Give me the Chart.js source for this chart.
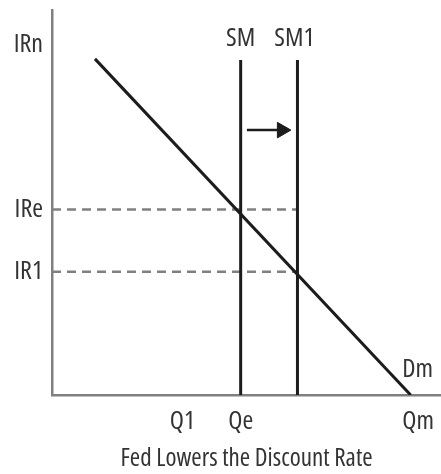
<!DOCTYPE html>
<html>
<head>
<meta charset="utf-8">
<script src="https://cdn.jsdelivr.net/npm/chart.js@4.4.0/dist/chart.umd.min.js"></script>
<style>
    html, body { margin: 0; padding: 0; background: #fff; }
    #wrap { width: 441px; height: 474px; }
</style>
</head>
<body>
<div id="wrap"><canvas id="moneyChart"></canvas></div>
<script>
/* =========================
   DATA
========================= */

const quantityTicks = [33.5, 48.5, 94.1];
const quantityLabels = ["Q1", "Qe", "Qm"];

const rateTicks = [32, 48.2, 90.9];
const rateLabels = ["IR1", "IRe", "IRn"];

const demandX = [11.05, 92.2];
const demandY = [87.3, 0];

const supplyQty = [48.5, 63.1];
const supplyTop = 87;
const supplyLabels = ["SM", "SM1"];

const shiftArrowX = [50.1, 59.1];
const shiftArrowY = 68.8;

const FONT = "'Open Sans', sans-serif";
const TEXT = "#333333";
const INK = "#1c1c1c";
const AXIS = "#808080";

/* =========================
   LINE LABELS (SM, SM1, Dm)
========================= */

const lineTags = {
    id: "lineTags",
    afterDatasetsDraw(chart) {
        const ctx = chart.ctx;
        ctx.save();
        ctx.font = "500 condensed 26px " + FONT;
        ctx.fillStyle = TEXT;
        ctx.textAlign = "center";
        ctx.textBaseline = "middle";

        chart.data.datasets.forEach((ds, i) => {
            if (!ds.tag) return;
            const pts = chart.getDatasetMeta(i).data;
            const p = ds.tag.at === "start" ? pts[0] : pts[pts.length - 1];
            ctx.fillText(ds.tag.text, p.x + ds.tag.dx, p.y + ds.tag.dy);
        });

        ctx.restore();
    }
};

/* =========================
   DATASETS
========================= */

function linePair(xs, ys) {
    return xs.map((x, i) => ({ x: x, y: ys[i] }));
}

const datasets = [];

datasets.push({
    label: "Dm",
    data: linePair(demandX, demandY),
    borderColor: INK,
    borderWidth: 3,
    tag: { text: "Dm", at: "end", dx: 7, dy: -25 }
});

supplyQty.forEach((q, i) => {
    datasets.push({
        label: supplyLabels[i],
        data: linePair([q, q], [0, supplyTop]),
        borderColor: INK,
        borderWidth: 3,
        tag: { text: supplyLabels[i], at: "end", dx: i === 0 ? 0 : -3, dy: -21 }
    });
});

[rateTicks[1], rateTicks[0]].forEach(r => {
    datasets.push({
        label: "rate",
        data: linePair([0, supplyQty[1]], [r, r]),
        borderColor: AXIS,
        borderWidth: 2.5,
        borderDash: [9, 6]
    });
});

datasets.push({
    label: "shift",
    data: linePair(shiftArrowX, [shiftArrowY, shiftArrowY]),
    borderColor: INK,
    borderWidth: 2.5,
    pointRadius: [0, 9],
    pointStyle: "triangle",
    rotation: 90,
    pointBackgroundColor: INK,
    pointBorderColor: INK,
    pointBorderWidth: 1
});

/* =========================
   CHART
========================= */

const tickFont = { family: FONT, size: 26, weight: "500 condensed", lineHeight: 1.2 };
const titleFont = { family: FONT, size: 25, weight: "500 condensed", lineHeight: 1.2 };

new Chart(document.getElementById("moneyChart"), {

    type: "scatter",

    data: { datasets: datasets },

    options: {
        responsive: true,
        maintainAspectRatio: false,
        animation: false,
        showLine: true,
        elements: {
            point: { radius: 0, hoverRadius: 0 },
            line: { tension: 0 }
        },
        layout: {
            autoPadding: false,
            padding: { top: 10, right: 0, left: 0, bottom: 0 }
        },
        plugins: {
            legend: { display: false },
            tooltip: { enabled: false }
        },
        scales: {
            x: {
                type: "linear",
                min: 0,
                max: 100,
                grid: { display: false, drawTicks: false },
                border: { display: true, color: AXIS, width: 2.5 },
                afterBuildTicks: s => { s.ticks = quantityTicks.map(v => ({ value: v })); },
                afterFit: s => { s.height = 79; s.paddingLeft = 0; s.paddingRight = 0; },
                ticks: {
                    autoSkip: false,
                    maxRotation: 0,
                    padding: 11,
                    color: TEXT,
                    font: tickFont,
                    callback: (v, i) => quantityLabels[i]
                },
                title: {
                    display: true,
                    text: "Fed Lowers the Discount Rate",
                    color: TEXT,
                    font: titleFont,
                    padding: { top: 0, bottom: 0 }
                }
            },
            y: {
                type: "linear",
                min: 0,
                max: 100,
                grid: { display: false, drawTicks: false },
                border: { display: true, color: AXIS, width: 2.5 },
                afterBuildTicks: s => { s.ticks = rateTicks.map(v => ({ value: v })); },
                afterFit: s => { s.width = 52; s.paddingTop = 0; s.paddingBottom = 0; },
                ticks: {
                    autoSkip: false,
                    padding: 9,
                    color: TEXT,
                    font: tickFont,
                    callback: (v, i) => rateLabels[i]
                }
            }
        }
    },

    plugins: [lineTags]
});
</script>
</body>
</html>
